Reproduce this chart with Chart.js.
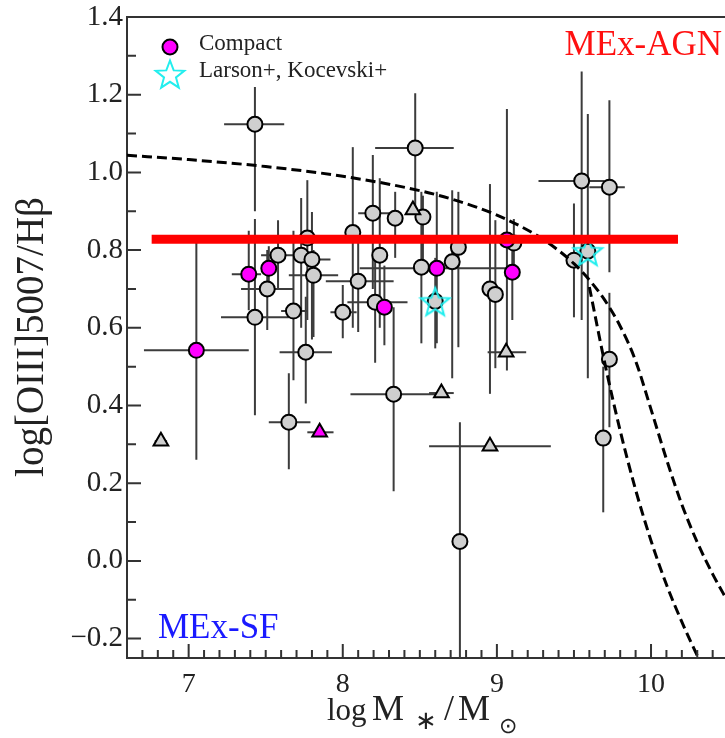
<!DOCTYPE html>
<html>
<head>
<meta charset="utf-8">
<script src="https://cdn.jsdelivr.net/npm/chart.js@4.4.1/dist/chart.umd.min.js"></script>
<style>
  html, body { margin: 0; padding: 0; background: #fff; }
  canvas { display: block; }
</style>
</head>
<body>
<canvas id="mexChart" width="725" height="738"></canvas>
<script>
// gray circles (log M*, log [OIII]/Hb) with error ranges
var grayX = [7.43, 7.43, 7.51, 7.58, 7.73, 7.77, 7.80, 7.81, 7.68, 7.76, 7.65, 8.065, 8.195, 8.34, 8.52, 8.47, 8.24, 8.10, 8.00, 8.21,
  8.51, 8.71, 8.75, 9.11, 8.955, 8.99, 8.33, 8.76, 9.55, 9.73, 9.50, 9.73, 9.69, 8.60, 9.59];
var grayY = [1.124, 0.627, 0.700, 0.787, 0.787, 0.831, 0.776, 0.735, 0.643, 0.537, 0.357, 0.845, 0.895, 0.882, 0.885, 1.063, 0.787, 0.720, 0.640, 0.666,
  0.756, 0.770, 0.807, 0.818, 0.700, 0.686, 0.429, 0.050, 0.978, 0.962, 0.774, 0.519, 0.316, 0.668, 0.797];
var grayXErr = [[7.23, 7.62], [7.21, 7.65], [7.34, 7.68], [7.47, 7.72], null, null, [7.72, 7.92], [7.65, 7.97], [7.60, 7.77], [7.59, 7.93],
  [7.52, 7.79], null, [8.10, 8.30], null, null, [8.21, 8.72], null, [7.89, 8.33], [7.92, 8.09], [8.03, 8.42],
  null, null, null, null, null, null, [8.05, 8.61], null, [9.27, 9.70], [9.60, 9.83], null, null, null, null, null];
var grayYErr = [[0.90, 1.22], [0.375, 0.88], [0.594, 0.80], [0.70, 0.877], [0.60, 0.934], [0.62, 0.98], [0.57, 0.898], [0.576, 0.80], [0.465, 0.85], [0.405, 0.68],
  [0.236, 0.483], [0.60, 1.065], [0.70, 1.045], [0.78, 0.95], [0.74, 0.94], [0.90, 1.204], [0.60, 0.985], [0.589, 0.85], [0.573, 0.71], [0.51, 0.78],
  [0.56, 0.95], [0.47, 0.954], [0.55, 0.95], [0.74, 0.88], [0.43, 0.97], [0.496, 0.877], [0.179, 0.653], [-0.35, 0.357], [0.62, 1.26], [0.743, 1.186],
  [0.627, 0.92], [0.344, 0.69], [0.125, 0.50], [0.547, 0.78], [0.47, 1.15]];

// gray triangles
var triX = [6.82, 8.455, 8.64, 9.06, 8.955];
var triY = [0.308, 0.903, 0.432, 0.537, 0.295];
var triXErr = [[6.78, 6.86], null, [8.56, 8.72], [8.94, 9.19], [8.56, 9.35]];

// compact galaxies (magenta)
var compactX = [7.05, 7.39, 7.52, 8.27, 8.61, 9.065, 9.10];
var compactY = [0.542, 0.738, 0.753, 0.653, 0.753, 0.826, 0.743];
var compactXErr = [[6.71, 7.39], [7.28, 7.47], null, null, [8.11, 9.14], null, null];
var compactYErr = [[0.26, 0.838], [0.645, 0.85], [0.70, 0.81], [0.555, 0.76], [0.56, 0.95], [0.49, 1.163], [0.62, 0.80]];
var compactTriX = [7.85];
var compactTriY = [0.331];
var compactTriXErr = [[7.77, 7.94]];

// Larson+, Kocevski+
var larsonX = [8.60, 9.59];
var larsonY = [0.668, 0.797];

// red line
var agnLineX = [6.76, 10.175];
var agnLineY = [0.828, 0.828];

// MEx demarcation curves
var mexUpperX = [6.6, 7.0, 7.5, 8.0, 8.5, 8.75, 9.0, 9.25, 9.4, 9.5, 9.6, 9.7, 9.8, 9.9, 10.0, 10.1, 10.2, 10.3, 10.4, 10.5];
var mexUpperY = [1.044, 1.033, 1.015, 0.990, 0.953, 0.926, 0.890, 0.840, 0.799, 0.765, 0.723, 0.671, 0.604, 0.515, 0.390, 0.262, 0.145, 0.048, -0.034, -0.106];
var mexLowerX = [9.6, 9.7, 9.8, 9.9, 10.0, 10.1, 10.2, 10.3, 10.35];
var mexLowerY = [0.705, 0.509, 0.335, 0.183, 0.052, -0.061, -0.157, -0.244, -0.285];

var xTicks = [7, 8, 9, 10];
var yTicks = [-0.2, 0, 0.2, 0.4, 0.6, 0.8, 1.0, 1.2, 1.4];

var SERIF = "'Liberation Serif', 'Times New Roman', serif";

function pts(xs, ys) {
  return xs.map(function (x, i) { return { x: x, y: ys[i] }; });
}

function starImage(r, color) {
  var size = Math.ceil(r * 2 + 4);
  var c = document.createElement("canvas");
  c.width = size; c.height = size;
  var g = c.getContext("2d");
  g.strokeStyle = color;
  g.lineWidth = 2;
  g.beginPath();
  for (var k = 0; k < 10; k++) {
    var rad = k % 2 === 0 ? r : r * 0.42;
    var ang = -Math.PI / 2 + k * Math.PI / 5;
    var px = size / 2 + rad * Math.cos(ang);
    var py = size / 2 + 1.5 + rad * Math.sin(ang);
    if (k === 0) g.moveTo(px, py); else g.lineTo(px, py);
  }
  g.closePath();
  g.stroke();
  return c;
}
var star = starImage(15, "#22eeee");

// error bars drawn under all markers
var errorBars = {
  id: "errorBars",
  beforeDatasetsDraw: function (chart) {
    var ctx = chart.ctx, a = chart.chartArea;
    var xs = chart.scales.x, ys = chart.scales.y;
    ctx.save();
    ctx.beginPath();
    ctx.rect(a.left, a.top, a.right - a.left, a.bottom - a.top);
    ctx.clip();
    ctx.strokeStyle = "#3c3c3c";
    ctx.lineWidth = 2;
    chart.data.datasets.forEach(function (ds) {
      if (!ds.xErr && !ds.yErr) return;
      ds.data.forEach(function (p, i) {
        var px = xs.getPixelForValue(p.x), py = ys.getPixelForValue(p.y);
        var ex = ds.xErr && ds.xErr[i], ey = ds.yErr && ds.yErr[i];
        ctx.beginPath();
        if (ex) {
          ctx.moveTo(xs.getPixelForValue(ex[0]), py);
          ctx.lineTo(xs.getPixelForValue(ex[1]), py);
        }
        if (ey) {
          ctx.moveTo(px, ys.getPixelForValue(ey[0]));
          ctx.lineTo(px, ys.getPixelForValue(ey[1]));
        }
        ctx.stroke();
      });
    });
    ctx.restore();
  }
};

// top frame, inward ticks, titles, legend, region labels
var decorations = {
  id: "decorations",
  afterDraw: function (chart) {
    var ctx = chart.ctx, a = chart.chartArea;
    var xs = chart.scales.x, ys = chart.scales.y;
    ctx.save();
    ctx.strokeStyle = "#333";
    ctx.lineWidth = 2;
    ctx.beginPath();
    ctx.moveTo(a.left, a.top);
    ctx.lineTo(a.right, a.top);
    for (var k = 67; k <= 104; k++) {
      var px = xs.getPixelForValue(k / 10);
      var len = k % 10 === 0 ? 14 : 8;
      ctx.moveTo(px, a.bottom);
      ctx.lineTo(px, a.bottom - len);
    }
    for (var j = -2; j <= 14; j++) {
      var py = ys.getPixelForValue(j / 10);
      var l2 = j % 2 === 0 ? 14 : 9;
      ctx.moveTo(a.left, py);
      ctx.lineTo(a.left + l2, py);
    }
    ctx.stroke();

    // x title: log M_* / M_sun
    ctx.fillStyle = "#222";
    ctx.textBaseline = "alphabetic";
    ctx.textAlign = "left";
    ctx.font = "31px " + SERIF;
    ctx.fillText("log", 327, 720);
    ctx.font = "36px " + SERIF;
    ctx.fillText("M", 372, 720);
    ctx.fillText("/", 444, 720);
    ctx.fillText("M", 458, 720);
    ctx.font = "26px " + SERIF;
    ctx.fillText("\u2217", 415, 729);
    ctx.font = "22px " + SERIF;
    ctx.fillText("\u2299", 499, 733);

    // y title
    ctx.save();
    ctx.translate(43, 337);
    ctx.rotate(-Math.PI / 2);
    ctx.textAlign = "center";
    ctx.font = "39px " + SERIF;
    ctx.fillText("log[OIII]5007/H\u03b2", 0, 0);
    ctx.restore();

    // legend
    ctx.beginPath();
    ctx.arc(170, 47, 7.5, 0, Math.PI * 2);
    ctx.fillStyle = "#ff00ff";
    ctx.fill();
    ctx.lineWidth = 2;
    ctx.strokeStyle = "#000";
    ctx.stroke();
    ctx.drawImage(star, 170 - star.width / 2, 74 - star.height / 2);
    ctx.fillStyle = "#222";
    ctx.font = "23px " + SERIF;
    ctx.textBaseline = "middle";
    ctx.fillText("Compact", 199, 44);
    ctx.fillText("Larson+, Kocevski+", 199, 71);

    // region labels
    ctx.textBaseline = "alphabetic";
    ctx.font = "35px " + SERIF;
    ctx.fillStyle = "#ff1010";
    ctx.textAlign = "right";
    ctx.fillText("MEx-AGN", 722, 55);
    ctx.fillStyle = "#1a1aff";
    ctx.textAlign = "left";
    ctx.fillText("MEx-SF", 158, 638);
    ctx.restore();
  }
};

var ctx = document.getElementById("mexChart").getContext("2d");
var mexChart = new Chart(ctx, {
  type: "scatter",
  data: {
    datasets: [
      {
        label: "AGN line",
        data: pts(agnLineX, agnLineY),
        showLine: true,
        borderColor: "#ff0000",
        borderWidth: 9,
        borderCapStyle: "butt",
        pointRadius: 0,
        order: 0
      },
      {
        label: "MEx upper",
        data: pts(mexUpperX, mexUpperY),
        showLine: true,
        borderColor: "#000",
        borderWidth: 3,
        borderDash: [10, 5],
        cubicInterpolationMode: "monotone",
        pointRadius: 0,
        order: 1
      },
      {
        label: "MEx lower",
        data: pts(mexLowerX, mexLowerY),
        showLine: true,
        borderColor: "#000",
        borderWidth: 3,
        borderDash: [10, 5],
        cubicInterpolationMode: "monotone",
        pointRadius: 0,
        order: 1
      },
      {
        label: "Larson+, Kocevski+",
        data: pts(larsonX, larsonY),
        pointStyle: star,
        order: 2
      },
      {
        label: "Compact",
        data: pts(compactX, compactY),
        xErr: compactXErr,
        yErr: compactYErr,
        pointStyle: "circle",
        pointRadius: 7.5,
        backgroundColor: "#ff00ff",
        borderColor: "#000",
        borderWidth: 2,
        order: 3
      },
      {
        label: "Compact (limit)",
        data: pts(compactTriX, compactTriY),
        xErr: compactTriXErr,
        pointStyle: "triangle",
        pointRadius: 8.5,
        backgroundColor: "#ff00ff",
        borderColor: "#000",
        borderWidth: 2,
        order: 3
      },
      {
        label: "limits",
        data: pts(triX, triY),
        xErr: triXErr,
        pointStyle: "triangle",
        pointRadius: 8.5,
        backgroundColor: "#cfcfcf",
        borderColor: "#000",
        borderWidth: 2,
        order: 4
      },
      {
        label: "galaxies",
        data: pts(grayX, grayY),
        xErr: grayXErr,
        yErr: grayYErr,
        pointStyle: "circle",
        pointRadius: 7.5,
        backgroundColor: "#cfcfcf",
        borderColor: "#000",
        borderWidth: 2,
        order: 5
      }
    ]
  },
  options: {
    responsive: false,
    animation: false,
    layout: { autoPadding: false, padding: { top: 17, right: 0, left: 0, bottom: 0 } },
    plugins: {
      legend: { display: false },
      tooltip: { enabled: false }
    },
    scales: {
      x: {
        type: "linear",
        min: 6.6,
        max: 10.48,
        afterBuildTicks: function (s) { s.ticks = xTicks.map(function (v) { return { value: v }; }); },
        afterFit: function (s) { s.height = 80; s.paddingLeft = 0; s.paddingRight = 0; },
        grid: { display: false, drawTicks: false },
        border: { display: true, color: "#333", width: 2 },
        ticks: {
          color: "#222",
          padding: 10,
          maxRotation: 0,
          font: { family: SERIF, size: 28 },
          callback: function (v) { return String(v); }
        }
      },
      y: {
        type: "linear",
        min: -0.25,
        max: 1.4,
        afterBuildTicks: function (s) { s.ticks = yTicks.map(function (v) { return { value: v }; }); },
        afterFit: function (s) { s.width = 127; s.paddingTop = 0; s.paddingBottom = 0; },
        grid: { display: false, drawTicks: false },
        border: { display: true, color: "#333", width: 2 },
        ticks: {
          color: "#222",
          padding: 4,
          font: { family: SERIF, size: 29 },
          callback: function (v) {
            return v < 0 ? "\u2212" + Math.abs(v).toFixed(1) : v.toFixed(1);
          }
        }
      }
    }
  },
  plugins: [errorBars, decorations]
});
</script>
</body>
</html>
